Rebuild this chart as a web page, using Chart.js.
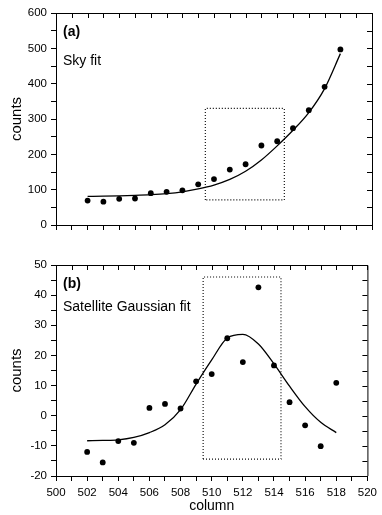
<!DOCTYPE html>
<html>
<head>
<meta charset="utf-8">
<script src="https://cdn.jsdelivr.net/npm/chart.js@4.4.1/dist/chart.umd.min.js"></script>
<style>
  html, body { margin: 0; padding: 0; background: #fff; }
  #skyChart { position: absolute; left: 0; top: 0; }
  #satChart { position: absolute; left: 0; top: 250px; }
</style>
</head>
<body>
<canvas id="skyChart" width="382" height="245"></canvas>
<canvas id="satChart" width="382" height="265"></canvas>
<script>
// data
const columns = [502, 503, 504, 505, 506, 507, 508, 509, 510, 511, 512, 513, 514, 515, 516, 517, 518];
const skyCounts = [69, 66, 74, 75, 90, 94, 98, 115, 130, 157, 172, 225, 237, 274, 325, 391, 497];
const skyFit = [81, 81.5, 82.5, 84, 86, 89, 94, 102, 113, 129, 152, 184, 224, 268, 318, 386, 485];
const satCounts = [-12, -15.5, -8.4, -9, 2.6, 3.9, 2.4, 11.4, 13.8, 25.7, 17.8, 42.6, 16.7, 4.5, -3.2, -10.1, 10.9];
const satFit = [-8.3, -8.2, -8.0, -7.2, -5.6, -3.0, 2.0, 10.5, 18.5, 25.8, 27.0, 23.8, 17.2, 9.8, 3.0, -2.2, -5.6];
const boxColumns = [509.45, 514.45];
const skyBox = [71, 330];
const satBox = [-14.4, 46];
const xTicks = { min: 500, max: 520, step: 1 };

Chart.defaults.font.family = '"Liberation Sans", Arial, Helvetica, sans-serif';
Chart.defaults.color = "#000";

function pairs(xs, ys) {
  return xs.map((x, i) => ({ x: x, y: ys[i] }));
}

function boxPath(xr, yr) {
  return [
    { x: xr[0], y: yr[0] }, { x: xr[0], y: yr[1] },
    { x: xr[1], y: yr[1] }, { x: xr[1], y: yr[0] },
    { x: xr[0], y: yr[0] },
  ];
}

// closes the frame on top/right with inward ticks and writes the panel notes
const framePlugin = {
  id: "frame",
  afterDraw(chart, args, opts) {
    const ctx = chart.ctx;
    const area = chart.chartArea;
    const xs = chart.scales.x;
    const ys = chart.scales.y;
    ctx.save();
    ctx.strokeStyle = "#000";
    ctx.lineWidth = 1;
    ctx.beginPath();
    ctx.moveTo(area.left, area.top + 0.5);
    ctx.lineTo(area.right + 0.5, area.top + 0.5);
    ctx.lineTo(area.right + 0.5, area.bottom);
    xs.ticks.forEach((t) => {
      const px = Math.round(xs.getPixelForValue(t.value)) + 0.5;
      ctx.moveTo(px, area.top);
      ctx.lineTo(px, area.top + 5);
    });
    ys.ticks.forEach((t) => {
      const py = Math.round(ys.getPixelForValue(t.value)) + 0.5;
      ctx.moveTo(area.right, py);
      ctx.lineTo(area.right - 5, py);
    });
    ctx.stroke();

    ctx.fillStyle = "#000";
    ctx.textBaseline = "alphabetic";
    (opts.notes || []).forEach((n) => {
      ctx.font = (n.bold ? "bold " : "") + "14px " + Chart.defaults.font.family;
      ctx.fillText(n.text, area.left + 7, area.top + n.dy);
    });
    ctx.restore();
  },
};

function makePanel(canvasId, cfg) {
  const datasets = [
    {
      label: "box",
      data: boxPath(boxColumns, cfg.box),
      showLine: true,
      borderColor: "#000",
      borderWidth: 1.1,
      borderDash: [1, 2],
      pointRadius: 0,
      fill: false,
    },
    {
      label: "fit",
      data: pairs(columns, cfg.fit),
      showLine: true,
      borderColor: "#000",
      borderWidth: 1.3,
      cubicInterpolationMode: "monotone",
      pointRadius: 0,
      fill: false,
    },
    {
      label: "counts",
      data: pairs(columns, cfg.counts),
      showLine: false,
      pointRadius: 2.9,
      pointBackgroundColor: "#000",
      pointBorderWidth: 0,
    },
  ];

  return new Chart(document.getElementById(canvasId), {
    type: "scatter",
    data: { datasets },
    plugins: [framePlugin],
    options: {
      responsive: false,
      animation: false,
      layout: { padding: { top: cfg.padTop, right: 10, left: 0, bottom: 0 } },
      plugins: {
        legend: { display: false },
        tooltip: { enabled: false },
        frame: { notes: cfg.notes },
      },
      scales: {
        x: {
          type: "linear",
          min: xTicks.min,
          max: xTicks.max,
          afterFit(scale) { scale.height = cfg.xHeight; },
          ticks: {
            stepSize: xTicks.step,
            autoSkip: false,
            maxRotation: 0,
            padding: 5,
            font: { size: 11.5 },
            callback: (v) => (cfg.xLabels && v % 2 === 0 ? String(v) : ""),
          },
          grid: { drawOnChartArea: false, drawTicks: true, tickLength: 5, color: "#000", lineWidth: 1 },
          border: { display: true, color: "#000", width: 1 },
          title: {
            display: !!cfg.xLabels,
            text: "column",
            font: { size: 14 },
            padding: { top: 0, bottom: 0 },
          },
        },
        y: {
          min: cfg.yMin,
          max: cfg.yMax,
          afterFit(scale) { scale.width = 56; },
          ticks: {
            stepSize: cfg.yStep,
            autoSkip: false,
            padding: 4,
            font: { size: 11.5 },
            callback: (v) => (v % cfg.yLabelEvery === 0 ? String(v) : ""),
          },
          grid: { drawOnChartArea: false, drawTicks: true, tickLength: 5, color: "#000", lineWidth: 1 },
          border: { display: true, color: "#000", width: 1 },
          title: {
            display: true,
            text: "counts",
            font: { size: 15 },
            padding: { top: 8, bottom: 0 },
          },
        },
      },
    },
  });
}

makePanel("skyChart", {
  counts: skyCounts,
  fit: skyFit,
  box: skyBox,
  yMin: 0, yMax: 600, yStep: 50, yLabelEvery: 100,
  padTop: 13, xHeight: 20, xLabels: false,
  notes: [{ text: "(a)", bold: true, dy: 23 }, { text: "Sky fit", dy: 52 }],
});

makePanel("satChart", {
  counts: satCounts,
  fit: satFit,
  box: satBox,
  yMin: -20, yMax: 50, yStep: 5, yLabelEvery: 10,
  padTop: 15, xHeight: 39, xLabels: true,
  notes: [{ text: "(b)", bold: true, dy: 23 }, { text: "Satellite Gaussian fit", dy: 46 }],
});
</script>
</body>
</html>
